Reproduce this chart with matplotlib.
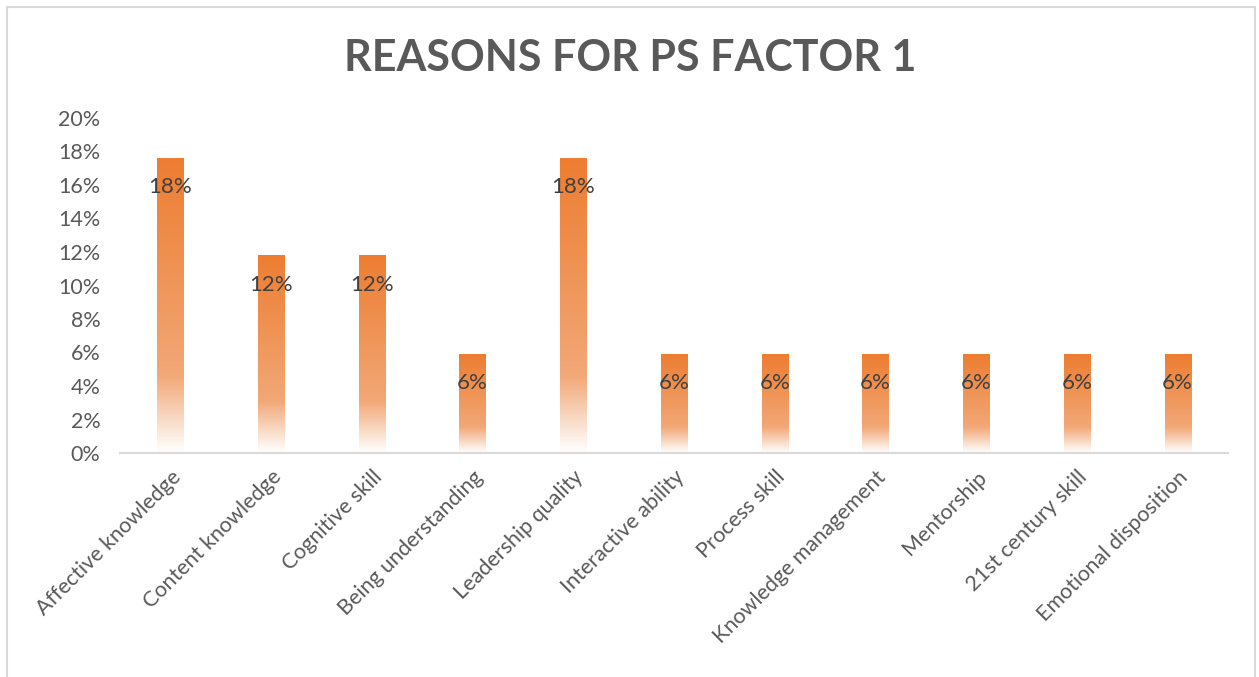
import matplotlib
matplotlib.use("Agg")
import matplotlib.pyplot as plt
import numpy as np
from matplotlib.colors import LinearSegmentedColormap
from matplotlib.patches import Rectangle
from matplotlib.ticker import PercentFormatter, MultipleLocator

categories = [
    "Affective knowledge", "Content knowledge", "Cognitive skill",
    "Being understanding", "Leadership quality", "Interactive ability",
    "Process skill", "Knowledge management", "Mentorship",
    "21st century skill", "Emotional disposition",
]
shares = [0.176, 0.118, 0.118, 0.059, 0.176, 0.059, 0.059, 0.059, 0.059, 0.059, 0.059]
title = "REASONS FOR PS FACTOR 1"

plt.rcParams["font.family"] = ["Lato", "DejaVu Sans"]

W, H = 1259, 677
fig = plt.figure(figsize=(W / 100, H / 100), dpi=100)
ax = fig.add_axes([120 / W, 1 - 453 / H, (1228 - 120) / W, (453 - 118) / H])

x = np.arange(len(categories))
bars = ax.bar(x, shares, width=0.26, color="none", edgecolor="none", zorder=2)

# vertical orange-to-white fade inside each bar
fade = LinearSegmentedColormap.from_list(
    "fade",
    [(0.0, "#FFFFFF"), (0.07, "#FBE9DC"), (0.26, "#F2A877"), (1.0, "#ED7D31")],
)
grad = np.linspace(0, 1, 256).reshape(-1, 1)
for b in bars:
    x0, w, h = b.get_x(), b.get_width(), b.get_height()
    im = ax.imshow(grad, cmap=fade, origin="lower", aspect="auto",
                   extent=(x0, x0 + w, 0, h), zorder=2, interpolation="bilinear")
    im.set_clip_path(b)

for xi, v in zip(x, shares):
    ax.annotate(f"{v:.0%}", (xi, v), xytext=(0, -21), textcoords="offset points",
                ha="center", va="center", fontsize=16, color="#404040", zorder=3)

ax.set_xlim(-0.5, len(categories) - 0.5)
ax.set_ylim(0, 0.20)
ax.yaxis.set_major_locator(MultipleLocator(0.02))
ax.yaxis.set_major_formatter(PercentFormatter(1.0, decimals=0))
ax.set_xticks(x)
ax.set_xticklabels(categories, rotation=45, ha="right", rotation_mode="anchor")

for s in ["top", "right", "left"]:
    ax.spines[s].set_visible(False)
ax.spines["bottom"].set_color("#D9D9D9")
ax.spines["bottom"].set_linewidth(1.5)
ax.tick_params(axis="both", length=0, labelsize=15.5, colors="#595959")
ax.tick_params(axis="y", pad=14)
ax.tick_params(axis="x", pad=10)

fig.text(630 / W, 1 - 58 / H, title, ha="center", va="center",
         fontsize=31, fontweight="bold", color="#595959")

fig.patches.append(Rectangle((7 / W, -0.01), (1255 - 7) / W, 1 - 7 / H + 0.01,
                             transform=fig.transFigure, fill=False,
                             edgecolor="#D9D9D9", linewidth=1.5))

fig.savefig("out.png", dpi=100, facecolor="white")
